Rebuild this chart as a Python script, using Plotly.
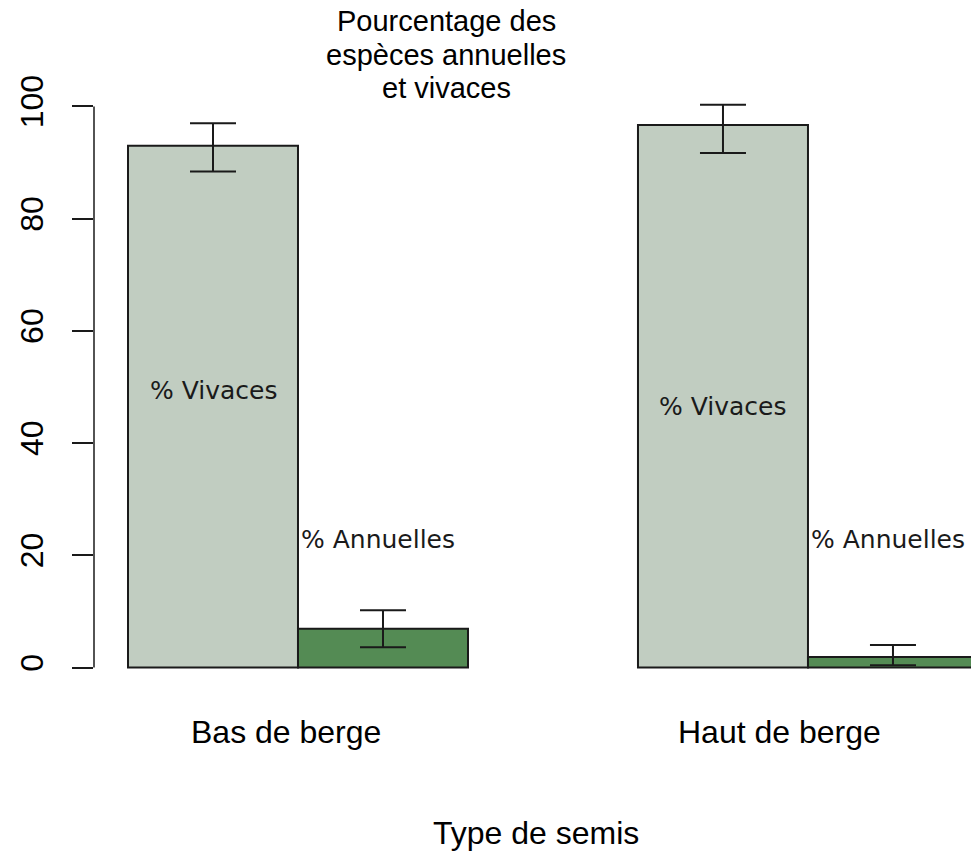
"""Bar chart: share of annual vs perennial species by bank position."""

import plotly.graph_objects as go

# data
groups = ["Bas de berge", "Haut de berge"]
vivaces = [93.0, 96.7]
vivaces_err_plus = [4.0, 3.6]
vivaces_err_minus = [4.6, 5.0]
annuelles = [6.9, 1.9]
annuelles_err_plus = [3.3, 2.1]
annuelles_err_minus = [3.3, 1.5]
y_ticks = [0, 20, 40, 60, 80, 100]
title_lines = ["Pourcentage des", "espèces annuelles", "et vivaces"]

LIGHT = "#C1CDC1"   # honeydew3
DARK = "#548B54"    # palegreen4
INK = "#1a1a1a"

# R barplot(beside=TRUE) geometry: group i spans [1+3i, 3+3i]
centers = [2 + 3 * i for i in range(len(groups))]
x_viv = [c - 0.5 for c in centers]
x_ann = [c + 0.5 for c in centers]

fig = go.Figure()
fig.add_trace(go.Bar(
    x=x_viv, y=vivaces, width=1, name="% Vivaces",
    marker=dict(color=LIGHT, line=dict(color=INK, width=2)),
    error_y=dict(type="data", symmetric=False, array=vivaces_err_plus,
                 arrayminus=vivaces_err_minus, color=INK, thickness=2, width=23),
))
fig.add_trace(go.Bar(
    x=x_ann, y=annuelles, width=1, name="% Annuelles",
    marker=dict(color=DARK, line=dict(color=INK, width=2)),
    error_y=dict(type="data", symmetric=False, array=annuelles_err_plus,
                 arrayminus=annuelles_err_minus, color=INK, thickness=2, width=23),
))

# in-bar labels
viv_label_y = [49.4, 46.5]
ann_label_y = [22.8, 22.8]
for i in range(len(groups)):
    fig.add_annotation(x=x_viv[i], y=viv_label_y[i], text="% Vivaces", showarrow=False,
                       font=dict(family="DejaVu Sans", size=25, color=INK))
    fig.add_annotation(x=x_ann[i] - 0.5, y=ann_label_y[i], text="% Annuelles", showarrow=False,
                       xanchor="left", xshift=1,
                       font=dict(family="DejaVu Sans", size=25, color=INK))

# group labels under the bars
group_label_x = [1.93, 4.83]
for gx, g in zip(group_label_x, groups):
    fig.add_annotation(x=gx, y=-0.069, xref="x", yref="paper", text=g, showarrow=False,
                       yanchor="middle", font=dict(family="Liberation Sans", size=32, color="black"))

fig.add_annotation(x=3.40, y=-0.236, xref="x", yref="paper", text="Type de semis",
                   showarrow=False, yanchor="middle",
                   font=dict(family="Liberation Sans", size=32, color="black"))

# three-line title, one annotation per line for R-like line spacing
for ty, line in zip([1.1040, 1.0479, 0.9934], title_lines):
    fig.add_annotation(x=2.871, y=ty, xref="x", yref="paper", text=line, showarrow=False,
                       yanchor="middle",
                       font=dict(family="Liberation Sans", size=29, color="black"))

# y axis line only spans the tick range, as in base R
fig.add_shape(type="line", xref="paper", yref="y", x0=0, x1=0,
              y0=y_ticks[0], y1=y_ticks[-1], line=dict(color=INK, width=1.5))

fig.update_xaxes(range=[0.8, 5.959], showticklabels=False, showgrid=False,
                 zeroline=False, showline=False, ticks="")
fig.update_yaxes(range=[-4, 104], tickvals=y_ticks, ticks="outside", ticklen=21,
                 tickwidth=1.5, tickcolor=INK, tickangle=-90, ticklabelstandoff=16,
                 tickfont=dict(family="Liberation Sans", size=32, color="black"),
                 showgrid=False, zeroline=False, showline=False)

fig.update_layout(
    width=971, height=852,
    paper_bgcolor="white", plot_bgcolor="white",
    barmode="overlay", showlegend=False,
    margin=dict(l=94, r=0, t=84, b=162),
)

# drop the default 8px page margin so the figure fills the window
fig.write_html("out.html", config={"displayModeBar": False},
               post_script="document.body.style.margin = '0';")
